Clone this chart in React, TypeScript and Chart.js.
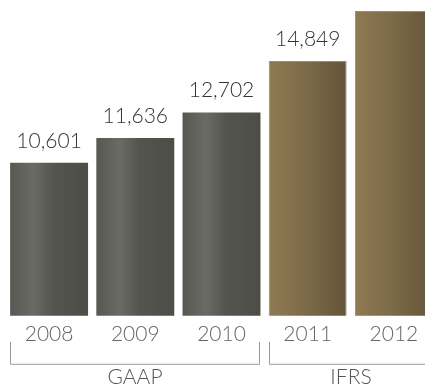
import React, { useEffect, useRef } from "react";
import { Chart, registerables } from "chart.js";

Chart.register(...registerables);

const years = ["2008", "2009", "2010", "2011", "2012"];
const values = [10601, 11636, 12702, 14849, 16939];
const groupNames = ["GAAP", "IFRS"];
const groupOfYear = [0, 0, 0, 1, 1];

const FONT = "Lato, 'Open Sans', sans-serif";
const BAR_PCT = 0.904;

function barGradient(chart: any, index: number) {
  const fallback = groupOfYear[index] === 0 ? "#5a5b55" : "#7c6947";
  const xs = chart.scales && chart.scales.x;
  const ctx = chart.ctx;
  if (!xs || !ctx) return fallback;
  const cx = xs.getPixelForValue(index);
  const half = ((xs.width / years.length) * BAR_PCT) / 2;
  if (!isFinite(cx) || !isFinite(half) || half <= 0) return fallback;
  const g = ctx.createLinearGradient(cx - half, 0, cx + half, 0);
  if (groupOfYear[index] === 0) {
    g.addColorStop(0, "#575852");
    g.addColorStop(0.3, "#6a6b65");
    g.addColorStop(0.55, "#54554e");
    g.addColorStop(1, "#4c4d46");
  } else {
    g.addColorStop(0, "#8f7a53");
    g.addColorStop(0.5, "#7c6947");
    g.addColorStop(1, "#655438");
  }
  return g;
}

const decorPlugin = {
  id: "decor",
  afterDatasetsDraw(chart: any) {
    const ctx = chart.ctx;
    const meta = chart.getDatasetMeta(0);
    ctx.save();
    ctx.font = `300 21px ${FONT}`;
    ctx.fillStyle = "#333333";
    ctx.textAlign = "center";
    ctx.textBaseline = "alphabetic";
    meta.data.forEach((bar: any, i: number) => {
      ctx.fillText(values[i].toLocaleString("en-US"), bar.x, bar.y - 15);
    });
    const bottom = chart.chartArea.bottom;
    groupNames.forEach((name, gi) => {
      const idx = groupOfYear.map((g, i) => (g === gi ? i : -1)).filter((i) => i >= 0);
      const first: any = meta.data[idx[0]];
      const last: any = meta.data[idx[idx.length - 1]];
      const l = Math.round(first.x - first.width / 2) + 0.5;
      const r = Math.round(last.x + last.width / 2) - 0.5;
      const top = bottom + 26;
      const hy = bottom + 48.5;
      ctx.strokeStyle = "#9a9a9a";
      ctx.lineWidth = 1;
      ctx.beginPath();
      ctx.moveTo(l, top);
      ctx.lineTo(l, hy);
      ctx.lineTo(r, hy);
      ctx.lineTo(r, top);
      ctx.stroke();
      ctx.fillStyle = "#555555";
      ctx.font = `300 21px ${FONT}`;
      ctx.textBaseline = "alphabetic";
      ctx.fillText(name, (l + r) / 2, bottom + 68);
    });
    ctx.restore();
  },
};

export default function App() {
  const ref = useRef<HTMLCanvasElement>(null);
  useEffect(() => {
    if (!ref.current) return;
    const chart = new Chart(ref.current, {
      type: "bar",
      data: {
        labels: years,
        datasets: [
          {
            data: values,
            backgroundColor: (c: any) => barGradient(c.chart, c.dataIndex),
            borderColor: "#8e8e8c",
            borderWidth: (c: any) => (groupOfYear[c.dataIndex] === 1 ? 1 : 0),
            barPercentage: BAR_PCT,
            categoryPercentage: 1,
          },
        ],
      },
      options: {
        responsive: false,
        animation: false,
        devicePixelRatio: 1,
        layout: { padding: { left: 6, right: 3, top: 0, bottom: 35 } },
        plugins: { legend: { display: false }, tooltip: { enabled: false } },
        scales: {
          x: {
            grid: { display: false, drawTicks: false },
            border: { display: false },
            ticks: {
              color: "#666666",
              padding: 6,
              font: { family: FONT, size: 21, weight: "300" as any },
            },
          },
          y: { display: false, min: 4200, max: 17400 },
        },
      },
      plugins: [decorPlugin],
    });
    chart.update();
    return () => chart.destroy();
  }, []);
  return (
    <div
      style={{
        position: "fixed",
        left: 0,
        top: 0,
        width: 425,
        height: 388,
        overflow: "hidden",
        background: "#ffffff",
      }}
    >
      <canvas ref={ref} width={440} height={388} style={{ display: "block" }} />
    </div>
  );
}
